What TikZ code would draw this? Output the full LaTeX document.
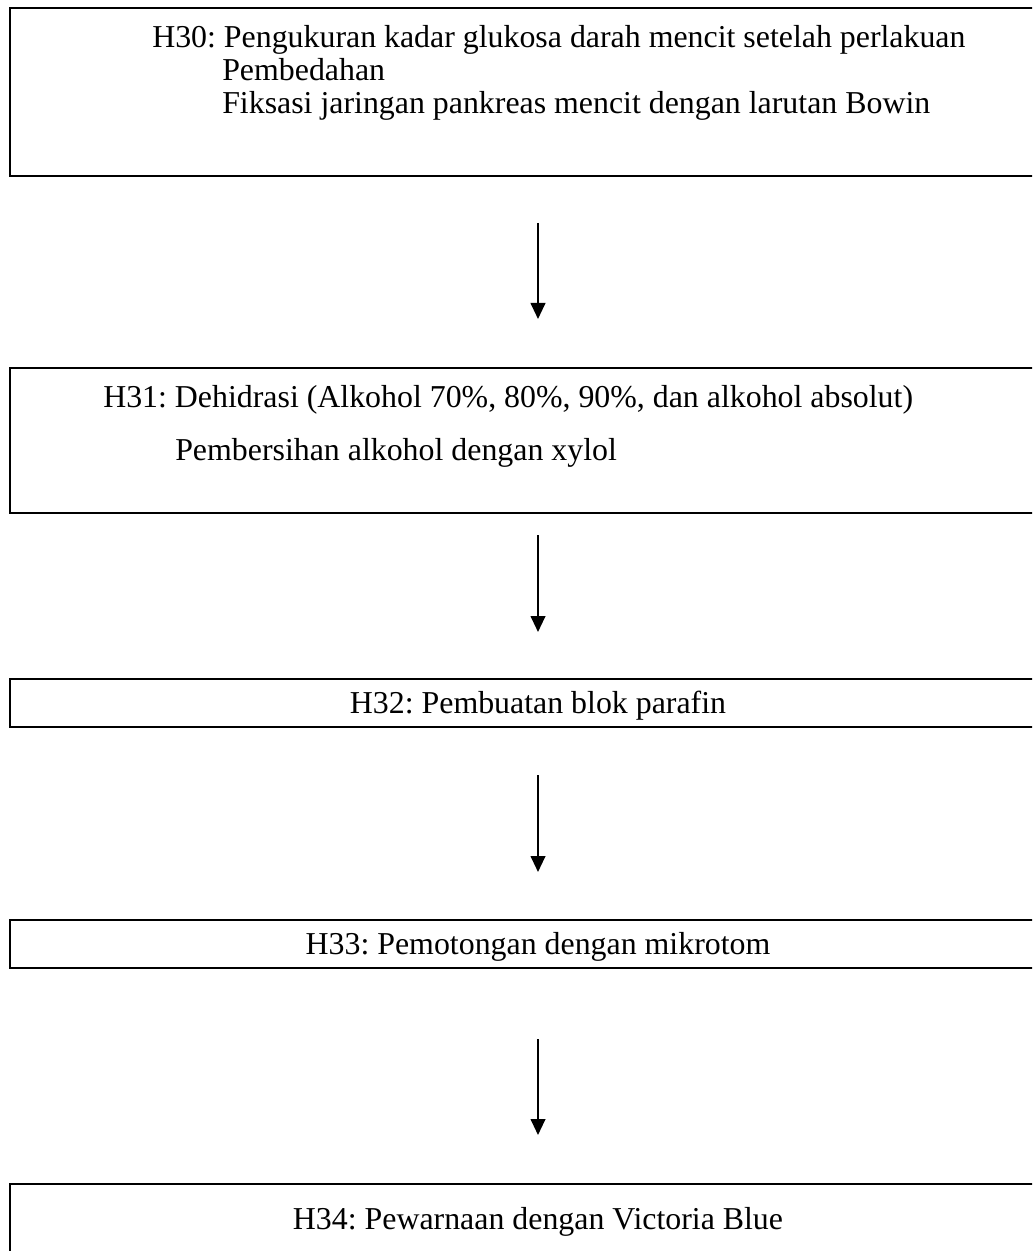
\documentclass[tikz,border=0pt]{standalone}
\usepackage{fontspec}
\setmainfont{Liberation Serif}
\usetikzlibrary{arrows.meta}
\frenchspacing
\tikzset{
  box/.style={draw=black, line width=1.5pt, rectangle, inner sep=0pt},
  txt/.style={anchor=base west, inner sep=0pt, font=\fontsize{23.9pt}{28pt}\selectfont},
  ctxt/.style={anchor=base, inner sep=0pt, font=\fontsize{23.9pt}{28pt}\selectfont},
  flow/.style={line width=1.5pt, -{Triangle[length=12pt, width=11pt]}}
}
\begin{document}
\begin{tikzpicture}[x=0.75pt, y=-0.75pt]
\useasboundingbox (0,0) rectangle (1032,1251);
\begin{scope}
\clip (0,0) rectangle (1032,1251);
% boxes
\node[box, minimum width=1056*0.75pt, minimum height=168*0.75pt] (b1) at (538,92) {};
\node[box, minimum width=1056*0.75pt, minimum height=145*0.75pt] (b2) at (538,440.5) {};
\node[box, minimum width=1056*0.75pt, minimum height=48*0.75pt] (b3) at (538,703) {};
\node[box, minimum width=1056*0.75pt, minimum height=48*0.75pt] (b4) at (538,944) {};
\node[box, minimum width=1056*0.75pt, minimum height=100*0.75pt] (b5) at (538,1234) {};
\end{scope}
% texts
\node[txt] (t1a) at (152,48) {\frenchspacing H30: Pengukuran kadar glukosa darah mencit setelah perlakuan};
\node[txt] (t1b) at (222,81) {Pembedahan};
\node[txt] (t1c) at (222,114) {Fiksasi jaringan pankreas mencit dengan larutan Bowin};
\node[txt] (t2a) at (103,407) {\frenchspacing H31: Dehidrasi (Alkohol 70\%, 80\%, 90\%, dan alkohol absolut)};
\node[txt] (t2b) at (175,460) {Pembersihan alkohol dengan xylol};
\node[ctxt] (t3) at (538,713) {\frenchspacing H32: Pembuatan blok parafin};
\node[ctxt] (t4) at (538,954) {\frenchspacing H33: Pemotongan dengan mikrotom};
\node[ctxt] (t5) at (538,1229) {\frenchspacing H34: Pewarnaan dengan Victoria Blue};
% arrows
\coordinate (a1s) at (538,223); \coordinate (a1e) at (538,319);
\coordinate (a2s) at (538,535); \coordinate (a2e) at (538,632);
\coordinate (a3s) at (538,775); \coordinate (a3e) at (538,872);
\coordinate (a4s) at (538,1039); \coordinate (a4e) at (538,1135);
\draw[flow] (a1s) -- (a1e);
\draw[flow] (a2s) -- (a2e);
\draw[flow] (a3s) -- (a3e);
\draw[flow] (a4s) -- (a4e);
\end{tikzpicture}
\end{document}
